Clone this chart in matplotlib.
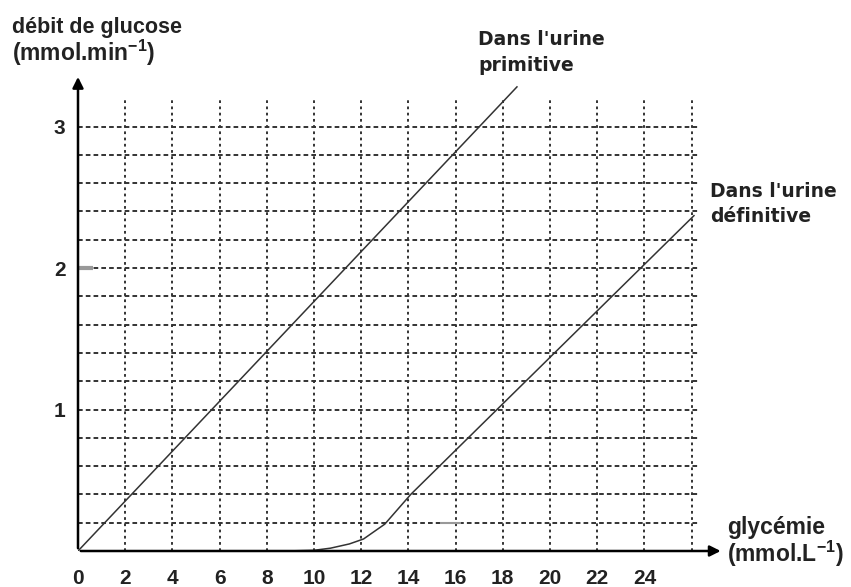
import matplotlib.pyplot as plt

plt.rcParams['mathtext.fontset'] = 'custom'
plt.rcParams['mathtext.bf'] = 'Liberation Sans:bold'
plt.rcParams['mathtext.rm'] = 'Liberation Sans:bold'
plt.rcParams['mathtext.default'] = 'bf'

# glucose flow
prim_x = [0, 18.6]
prim_y = [0, 3.28]
def_x = [8.8, 10, 10.7, 11.5, 12.1, 13.0, 14.1, 26.1]
def_y = [0, 0.005, 0.02, 0.05, 0.085, 0.19, 0.4, 2.37]

x_ticks = [0, 2, 4, 6, 8, 10, 12, 14, 16, 18, 20, 22, 24]
y_ticks = [1, 2, 3]
v_grid = list(range(2, 27, 2))
h_grid = [0.2 * i for i in range(1, 16)]

W, H = 851, 587
fig = plt.figure(figsize=(W / 100, H / 100), dpi=100)
x0, y0 = 78, 551          # origin in pixels
px_x, px_y = 23.6, 141.5  # pixels per unit
xmax, ymax = 28, 3.5
ax = fig.add_axes([x0 / W, (H - y0) / H, xmax * px_x / W, ymax * px_y / H])
ax.set_xlim(0, xmax)
ax.set_ylim(0, ymax)
for s in ax.spines.values():
    s.set_visible(False)

# grid
ax.vlines(v_grid, 0, 3.2, colors='#333333', linewidth=1.4, linestyles=(0, (1.4, 1.8)))
ax.hlines(h_grid, 0, 26.3, colors='#333333', linewidth=1.4, linestyles=(0, (2.4, 1.6)))
# scan artefacts
ax.plot([0, 0.65], [2, 2], color='#999999', lw=3, solid_capstyle='butt')
ax.plot([15.4, 16.2], [0.2, 0.2], color='#999999', lw=1.5)

# curves
ax.plot(prim_x, prim_y, color='#333333', lw=1.1)
ax.plot(def_x, def_y, color='#333333', lw=1.1)

# axes with arrows
ax.annotate('', xy=(27.35, 0), xytext=(0, 0),
            arrowprops=dict(arrowstyle='-|>', color='k', lw=1.8, mutation_scale=16),
            annotation_clip=False)
ax.annotate('', xy=(0, 3.37), xytext=(0, 0),
            arrowprops=dict(arrowstyle='-|>', color='k', lw=1.8, mutation_scale=16),
            annotation_clip=False)

ax.set_xticks(x_ticks)
ax.set_xticklabels([str(t) for t in x_ticks], fontsize=15, fontweight='bold',
                   family='Liberation Sans', color='#222222')
ax.set_yticks(y_ticks)
ax.set_yticklabels([str(t) for t in y_ticks], fontsize=15, fontweight='bold',
                   family='Liberation Sans', color='#222222')
ax.tick_params(axis='x', length=0, pad=13)
ax.tick_params(axis='y', length=0, pad=9)


def ftext(px, py, s, **kw):
    # py is the baseline of the last line, in pixels from the top
    fig.text(px / W, 1 - py / H, s, va='baseline', ha='left', **kw)


lab = dict(fontweight='bold', family='Liberation Sans', color='#222222')
ftext(12, 33, 'débit de glucose', fontsize=15.5, **lab)
ftext(12, 61, '(mmol.min$^{-1}$)', fontsize=16.5, **lab)
ftext(727, 562, 'glycémie\n(mmol.L$^{-1}$)', fontsize=16.5, linespacing=1.0, **lab)

ann = dict(fontsize=13.5, fontweight='bold', family='DejaVu Sans', color='#222222')
ftext(478, 71, "Dans l'urine\nprimitive", linespacing=1.45, **ann)
ftext(710, 222, "Dans l'urine\ndéfinitive", linespacing=1.4, **ann)

fig.savefig('out.png', dpi=100)
